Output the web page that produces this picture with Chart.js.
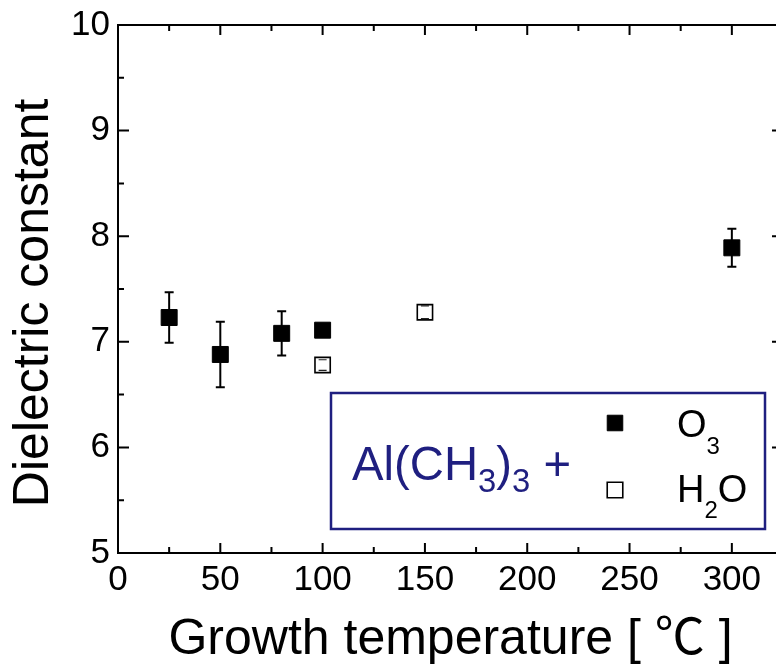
<!DOCTYPE html>
<html><head><meta charset="utf-8">
<script src="https://cdn.jsdelivr.net/npm/chart.js@4/dist/chart.umd.min.js"></script>
<style>html,body{margin:0;padding:0;overflow:hidden;background:#fff}</style>
</head><body>
<canvas id="c" width="800" height="666" style="display:block;width:800px;height:666px"></canvas>
<script>
// ---- data ----
const xTickLabels = [0, 50, 100, 150, 200, 250, 300];
const yTickLabels = [5, 6, 7, 8, 9, 10];
const tempO3 = [25, 50, 80, 100, 300];
const kO3 = [7.23, 6.88, 7.08, 7.11, 7.89];
const errO3 = [0.24, 0.31, 0.21, 0.05, 0.18];
const tempH2O = [100, 150];
const kH2O = [6.78, 7.28];
const errH2O = [0.05, 0.06];
const xTitle = 'Growth temperature [ ℃ ]';
const yTitle = 'Dielectric constant';
const legendPrefix = [['Al(CH', false], ['3', true], [')', false], ['3', true], [' +', false]];
const labelO3 = [['O', false], ['3', true]];
const labelH2O = [['H', false], ['2', true], ['O', false]];

const FAM = "'Liberation Sans', Arial, 'Noto Sans CJK JP', sans-serif";
const NAVY = '#1f1f80';

// frame with inward ticks (major + minor)
const frameTicks = {
  id: 'frameTicks',
  afterDraw(chart) {
    const {ctx, chartArea: a, scales: {x, y}} = chart;
    ctx.save();
    ctx.strokeStyle = '#000';
    ctx.lineWidth = 2;
    ctx.strokeRect(a.left, a.top, a.right - a.left, a.bottom - a.top);
    ctx.beginPath();
    for (let v = 0; v <= 325; v += 25) {
      const px = x.getPixelForValue(v);
      const len = (v % 50 === 0) ? 10 : 6;
      ctx.moveTo(px, a.bottom); ctx.lineTo(px, a.bottom - len);
      ctx.moveTo(px, a.top); ctx.lineTo(px, a.top + len);
    }
    for (let v = 5; v <= 10.001; v += 0.5) {
      const py = y.getPixelForValue(v);
      const len = (Math.abs(v - Math.round(v)) < 1e-6) ? 11 : 6;
      ctx.moveTo(a.left, py); ctx.lineTo(a.left + len, py);
      ctx.moveTo(a.right, py); ctx.lineTo(a.right - len, py);
    }
    ctx.stroke();
    ctx.restore();
  }
};

function barGeom(chart, ds, j) {
  const {x, y} = chart.scales;
  const p = ds.data[j];
  return {
    px: x.getPixelForValue(p.x),
    t: y.getPixelForValue(p.y + ds.errors[j]),
    b: y.getPixelForValue(p.y - ds.errors[j])
  };
}

// error bars: stems under the markers, caps over them
const errorBars = {
  id: 'errorBars',
  beforeDatasetsDraw(chart) {
    const {ctx} = chart;
    chart.data.datasets.forEach(ds => {
      if (!ds.errors) return;
      ctx.save();
      ctx.strokeStyle = ds.errColor;
      ctx.lineWidth = ds.errWidth;
      ds.data.forEach((p, j) => {
        const g = barGeom(chart, ds, j);
        ctx.beginPath();
        ctx.moveTo(g.px, g.t); ctx.lineTo(g.px, g.b);
        ctx.stroke();
      });
      ctx.restore();
    });
  },
  afterDatasetsDraw(chart) {
    const {ctx} = chart;
    chart.data.datasets.forEach(ds => {
      if (!ds.errors) return;
      ctx.save();
      ctx.strokeStyle = ds.errColor;
      ctx.lineWidth = ds.errWidth;
      ds.data.forEach((p, j) => {
        const g = barGeom(chart, ds, j);
        const c = ds.capHalf;
        ctx.beginPath();
        ctx.moveTo(g.px - c, g.t); ctx.lineTo(g.px + c, g.t);
        ctx.moveTo(g.px - c, g.b); ctx.lineTo(g.px + c, g.b);
        ctx.stroke();
      });
      ctx.restore();
    });
  }
};

function richWidth(ctx, parts, size, subSize) {
  let w = 0;
  parts.forEach(([txt, sub]) => {
    ctx.font = (sub ? subSize : size) + 'px ' + FAM;
    w += ctx.measureText(txt).width;
  });
  return w;
}

function drawRich(ctx, parts, x, baseline, size, subSize, subDrop, color) {
  ctx.fillStyle = color;
  ctx.textBaseline = 'alphabetic';
  ctx.textAlign = 'left';
  let cx = x;
  parts.forEach(([txt, sub]) => {
    ctx.font = (sub ? subSize : size) + 'px ' + FAM;
    ctx.fillText(txt, cx, baseline + (sub ? subDrop : 0));
    cx += ctx.measureText(txt).width;
  });
}

const legendBox = {
  id: 'legendBox',
  afterDraw(chart) {
    const {ctx, chartArea: a} = chart;
    const L = a.left + 213, T = a.top + 368, W = 434, H = 136;
    ctx.save();
    ctx.strokeStyle = NAVY;
    ctx.lineWidth = 2.5;
    ctx.strokeRect(L, T, W, H);
    // prefix, condensed to the reference's width
    const natural = richWidth(ctx, legendPrefix, 49, 34);
    const sx = 219 / natural;
    ctx.save();
    ctx.translate(L + 21, T + 87);
    ctx.scale(sx, 1);
    drawRich(ctx, legendPrefix, 0, 0, 49, 34, 12, NAVY);
    ctx.restore();
    // markers
    const ds = chart.data.datasets;
    [[ds[0], T + 30], [ds[1], T + 97]].forEach(([d, py]) => {
      ctx.fillStyle = d.pointBackgroundColor;
      ctx.strokeStyle = d.pointBorderColor;
      ctx.lineWidth = d.pointBorderWidth;
      Chart.helpers.drawPoint(ctx, {pointStyle: 'rect', radius: 11, rotation: 0, borderWidth: d.pointBorderWidth}, L + 284, py);
    });
    drawRich(ctx, labelO3, L + 346, T + 44, 38, 24, 17, '#000');
    drawRich(ctx, labelH2O, L + 346, T + 109, 38, 24, 16, '#000');
    ctx.restore();
  }
};

new Chart(document.getElementById('c'), {
  type: 'scatter',
  data: {
    datasets: [
      {
        label: 'O3',
        data: tempO3.map((t, i) => ({x: t, y: kO3[i]})),
        errors: errO3, errColor: '#000', errWidth: 2, capHalf: 4.5,
        pointStyle: 'rect', pointRadius: 11.3, pointHoverRadius: 11.3,
        pointBackgroundColor: '#000', pointBorderColor: '#000', pointBorderWidth: 1
      },
      {
        label: 'H2O',
        data: tempH2O.map((t, i) => ({x: t, y: kH2O[i]})),
        errors: errH2O, errColor: '#222', errWidth: 1.2, capHalf: 4,
        pointStyle: 'rect', pointRadius: 10.8, pointHoverRadius: 10.8,
        pointBackgroundColor: '#fff', pointBorderColor: '#000', pointBorderWidth: 1.6
      }
    ]
  },
  options: {
    responsive: false,
    animation: false,
    events: [],
    layout: {padding: {top: 25, right: 17, left: 0, bottom: 0}},
    plugins: {legend: {display: false}, tooltip: {enabled: false}},
    scales: {
      x: {
        type: 'linear', min: 0, max: 325,
        afterFit(s) { s.height = 113; s.paddingLeft = 0; s.paddingRight = 0; },
        grid: {display: false, drawTicks: false},
        border: {display: false},
        ticks: {
          stepSize: 50, includeBounds: false, autoSkip: false, maxRotation: 0,
          color: '#000', font: {family: FAM, size: 35}, padding: 6,
          callback: v => xTickLabels.includes(v) ? String(v) : ''
        },
        title: {display: true, text: xTitle, color: '#000',
                font: {family: FAM, size: 50, lineHeight: 1}, padding: {top: 0, bottom: 1}}
      },
      y: {
        type: 'linear', min: 5, max: 10,
        afterFit(s) { s.width = 118; s.paddingTop = 0; s.paddingBottom = 0; },
        grid: {display: false, drawTicks: false},
        border: {display: false},
        ticks: {
          stepSize: 1, autoSkip: false,
          color: '#000', font: {family: FAM, size: 35}, padding: 8,
          callback: v => yTickLabels.includes(v) ? String(v) : ''
        },
        title: {display: true, text: yTitle + '\u0020\u0020', color: '#000',
                font: {family: FAM, size: 50, lineHeight: 1}, padding: {top: 9, bottom: 0}}
      }
    }
  },
  plugins: [frameTicks, errorBars, legendBox]
});
</script>
</body></html>
